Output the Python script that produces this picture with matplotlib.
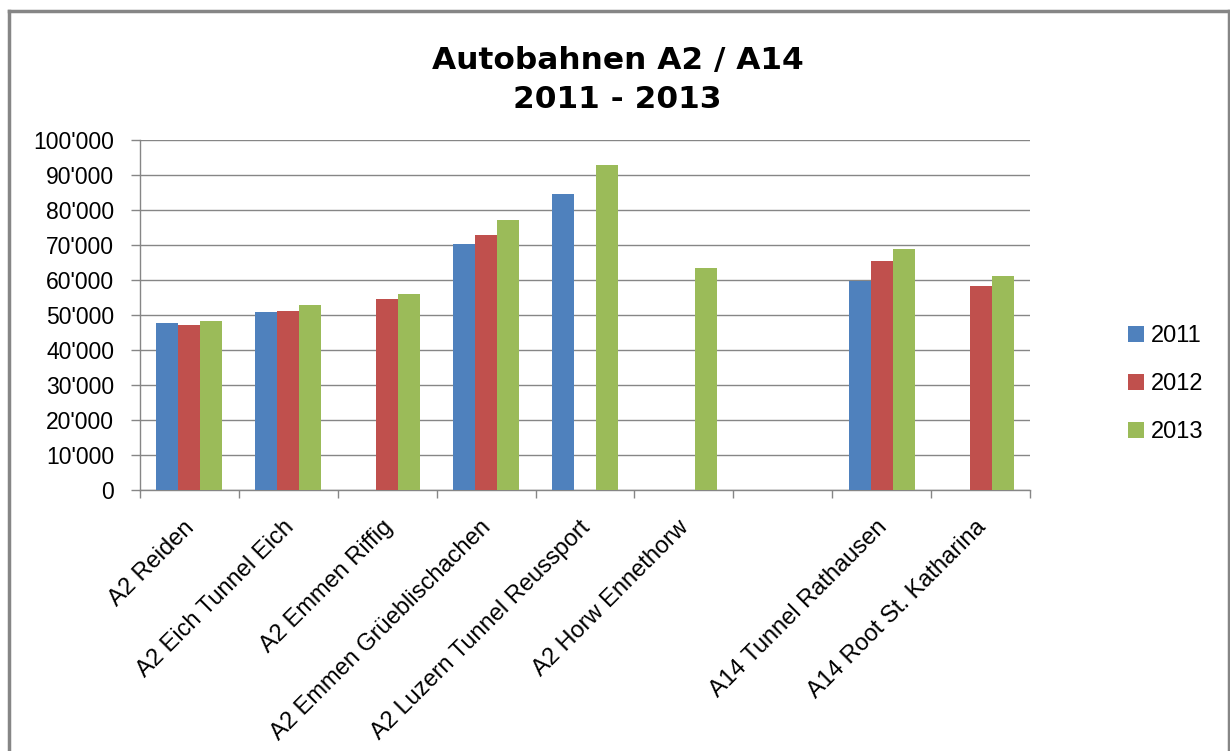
import matplotlib.pyplot as plt
import matplotlib.ticker as mticker
from matplotlib.lines import Line2D
import numpy as np

categories = ['A2 Reiden', 'A2 Eich Tunnel Eich', 'A2 Emmen Riffig', 'A2 Emmen Grüeblischachen',
              'A2 Luzern Tunnel Reussport', 'A2 Horw Ennethorw', '', 'A14 Tunnel Rathausen',
              'A14 Root St. Katharina']
years = ['2011', '2012', '2013']
v2011 = [47700, 50900, 0, 70300, 84600, 0, 0, 59700, 0]
v2012 = [47100, 51100, 54600, 72900, 0, 0, 0, 65400, 58300]
v2013 = [48300, 52900, 56000, 77100, 92900, 63400, 0, 68900, 61100]
colors = ['#4f81bd', '#c0504d', '#9bbb59']

plt.rcParams['font.family'] = ['Liberation Sans', 'DejaVu Sans']

fig = plt.figure(figsize=(12.3, 7.51), dpi=100)
ax = fig.add_axes([140 / 1230, 1 - 490 / 751, 890 / 1230, 350 / 751])

x = np.arange(len(categories))
w = 1 / 4.5
for i, (vals, lab) in enumerate(zip([v2011, v2012, v2013], years)):
    ax.bar(x + (i - 1) * w, vals, width=w, color=colors[i], label=lab, zorder=3)

ax.set_xlim(-0.5, len(categories) - 0.5)
ax.set_ylim(0, 100000)
ax.set_yticks(np.arange(0, 100001, 10000))
ax.yaxis.set_major_formatter(mticker.FuncFormatter(lambda v, p: f"{int(v):,}".replace(',', "'")))
ax.grid(axis='y', color='#868686', linewidth=1, zorder=0)

# labels sit slightly left of the category centre, like Excel does
ax.set_xticks(x - 0.06)
ax.set_xticklabels(categories, rotation=45, ha='right', rotation_mode='anchor', fontsize=17)
ax.set_xticks(np.arange(-0.5, len(categories), 1), minor=True)
ax.tick_params(axis='x', which='major', length=0, pad=19)
ax.tick_params(axis='x', which='minor', length=6, color='#868686', width=1)
ax.tick_params(axis='y', length=6.5, color='#868686', width=1, labelsize=16.5, pad=12)

for s in ['top', 'right']:
    ax.spines[s].set_visible(False)
for s in ['left', 'bottom']:
    ax.spines[s].set_color('#868686')
    ax.spines[s].set_linewidth(1)

fig.text(0.502, 1 - 60 / 751, 'Autobahnen A2 / A14', ha='center', va='center',
         fontsize=22.5, fontweight='heavy', family='DejaVu Sans')
fig.text(0.502, 1 - 100 / 751, '2011 - 2013', ha='center', va='center',
         fontsize=22.5, fontweight='heavy', family='DejaVu Sans')

fig.legend(loc='center left', bbox_to_anchor=(1107 / 1230, 1 - 384 / 751), frameon=False,
           fontsize=17, handlelength=0.65, handleheight=0.65, handletextpad=0.3, labelspacing=1.1)

bc = '#868686'
fig.add_artist(Line2D([9 / 1230, 9 / 1230], [0, 1 - 11 / 751], color=bc, linewidth=2.5))
fig.add_artist(Line2D([9 / 1230, 1229 / 1230], [1 - 11 / 751, 1 - 11 / 751], color=bc, linewidth=2.5))
fig.add_artist(Line2D([1229 / 1230, 1229 / 1230], [0, 1 - 11 / 751], color=bc, linewidth=2.5))

fig.savefig('out.png', dpi=100)
